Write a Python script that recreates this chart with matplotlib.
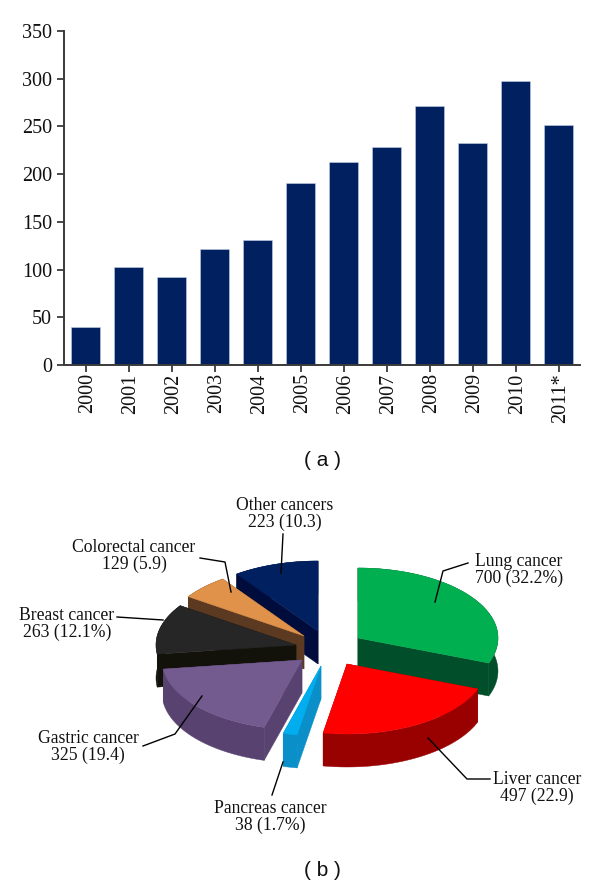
import numpy as np
from matplotlib import pyplot as plt
from matplotlib.transforms import ScaledTranslation

years = ['2000', '2001', '2002', '2003', '2004', '2005', '2006', '2007', '2008', '2009', '2010', '2011*']
counts = [40, 103, 92, 122, 131, 191, 213, 228, 271, 233, 298, 251]

cancers = ['Lung', 'Liver', 'Pancreas', 'Gastric', 'Breast', 'Colorectal', 'Other']
shares = [32.2, 22.9, 1.7, 19.4, 12.1, 5.9, 10.3]
labels = ['Lung cancer\n700 (32.2%)', 'Liver cancer\n497 (22.9)', 'Pancreas cancer\n38 (1.7%)',
          'Gastric cancer\n325 (19.4)', 'Breast cancer\n263 (12.1%)', 'Colorectal cancer\n129 (5.9)',
          'Other cancers\n223 (10.3)']

top_colors = ['#00b050', '#ff0000', '#00aeef', '#735a8f', '#262626', '#e0924a', '#002060']
side_colors = ['#004f2a', '#990000', '#0a8fc8', '#574270', '#12120a', '#5c3a22', '#000d3c']

# layout of the exploded pie, in pixels
apex = [(358, 638), (347, 664), (321, 666), (302, 660), (296, 645), (304, 636), (318, 631)]
label_pos = [(519, 570), (537, 788), (270, 817), (88, 747), (67, 624), (134, 556), (285, 514)]
leaders = [[(435, 602), (443, 571), (468, 563)],
           [(428, 738), (467, 779), (490, 779)],
           [(283, 762), (272, 795)],
           [(202, 696), (175, 734), (143, 746)],
           [(163, 620), (117, 617)],
           [(231, 592), (225, 562), (200, 558)],
           [(281, 573), (283, 534)]]
draw_order = [0, 6, 5, 4, 3, 2, 1]
rx, ry, depth = 140, 70, 33

plt.rcParams['font.family'] = ['Liberation Serif', 'DejaVu Serif']

fig = plt.figure(figsize=(6, 8.86), dpi=100)

# (a) bars
ax = fig.add_axes([64 / 600, 1 - 365 / 886, 516 / 600, 334 / 886])
ax.bar(range(len(years)), counts, width=0.67, color='#00205f', edgecolor='#c5d0e8', linewidth=0.4)
ax.set_xlim(-0.5, len(years) - 0.5)
ax.set_ylim(0, 350)
ax.set_yticks(range(0, 351, 50))
ax.set_xticks(range(len(years)))
ax.set_xticklabels(years, rotation=90)
ax.tick_params(axis='both', labelsize=14.5, color='#3a3a3a', width=1.3, length=5, labelcolor='#111111')
ax.tick_params(axis='x', pad=1)
# rotated labels sit a little left of their ticks otherwise
shift = ScaledTranslation(2 / 100, 0, fig.dpi_scale_trans)
for lab in ax.get_xticklabels():
    lab.set_transform(lab.get_transform() + shift)
ax.spines['top'].set_visible(False)
ax.spines['right'].set_visible(False)
ax.spines['left'].set_color('#3a3a3a')
ax.spines['bottom'].set_color('#3a3a3a')
ax.spines['left'].set_linewidth(1.4)
ax.spines['bottom'].set_linewidth(1.4)

# (b) pie, overlay axes in pixels
pie = fig.add_axes([0, 0, 1, 1])
pie.set_xlim(0, 600)
pie.set_ylim(886, 0)
pie.axis('off')
pie.patch.set_alpha(0)

sweep = np.array(shares) / sum(shares) * 360
ends = 90 - np.cumsum(sweep)
starts = ends + sweep

for i in draw_order:
    cx, cy = apex[i]
    t = np.radians(np.linspace(starts[i], ends[i], 60))
    xs = cx + rx * np.cos(t)
    ys = cy - ry * np.sin(t)
    # radial walls first, then the rim, the top hides whatever faces away
    for k in (0, -1):
        pie.fill([cx, xs[k], xs[k], cx], [cy, ys[k], ys[k] + depth, cy + depth],
                 color=side_colors[i], linewidth=0.3)
    pie.fill(np.r_[xs, xs[::-1]], np.r_[ys, ys[::-1] + depth], color=side_colors[i], linewidth=0.3)
    pie.fill(np.r_[cx, xs], np.r_[cy, ys], color=top_colors[i], linewidth=0.3)

for line, pos, txt in zip(leaders, label_pos, labels):
    pie.plot(*zip(*line), color='black', linewidth=1)
    pie.text(pos[0], pos[1], txt, ha='center', va='center', fontsize=12.7, color='#111111', linespacing=1.05)

pie.text(322, 460, '( a )', ha='center', va='center', fontsize=15, family='Liberation Sans', color='#111111')
pie.text(322, 870, '( b )', ha='center', va='center', fontsize=15, family='Liberation Sans', color='#111111')

fig.savefig('out.png', dpi=100)
